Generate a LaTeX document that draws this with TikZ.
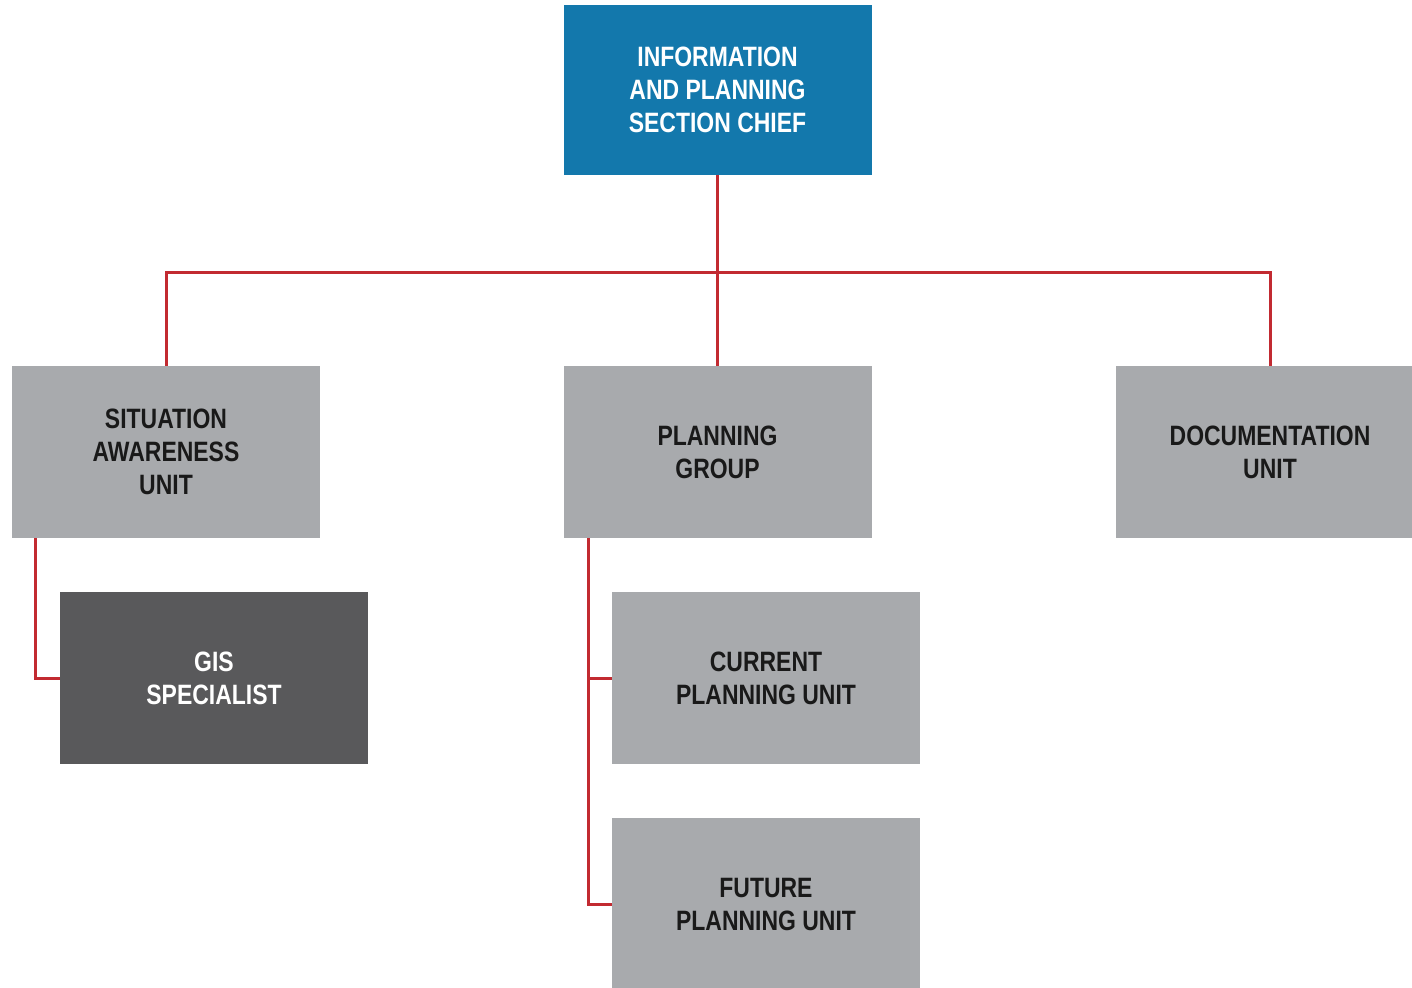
\documentclass[tikz,border=0pt]{standalone}
\usepackage{fontspec}
\setmainfont{Liberation Sans}[FakeStretch=0.82]
\usepackage{tikz}
\usetikzlibrary{calc}

\definecolor{chiefblue}{HTML}{1378AC}
\definecolor{unitgray}{HTML}{A8AAAD}
\definecolor{gisgray}{HTML}{59595B}
\definecolor{linered}{HTML}{C22A31}

\tikzset{
    unitbox/.style={fill=unitgray, text=black!90, minimum width=154pt, minimum height=86pt,
        align=center, inner sep=0pt, font=\fontsize{14}{16.5}\selectfont\bfseries},
    chiefbox/.style={unitbox, fill=chiefblue, text=white, minimum height=85pt},
    gisbox/.style={unitbox, fill=gisgray, text=white},
    link/.style={draw=linered, line width=1.5pt}
}

\begin{document}
\begin{tikzpicture}[x=0.5pt,y=-0.5pt]
        \useasboundingbox (0,0) rectangle (1412,988);
        \node[chiefbox] (chief) at (717.5,90) {INFORMATION\\AND PLANNING\\SECTION CHIEF};
        \node[unitbox] (sau) at (166,452) {SITUATION\\AWARENESS\\UNIT};
        \node[unitbox] (pg) at (717.5,452) {PLANNING\\GROUP};
        \node[unitbox] (doc) at (1270,452) {DOCUMENTATION\\UNIT};
        \node[gisbox] (gis) at (214,678) {GIS\\SPECIALIST};
        \node[unitbox] (cur) at (766,678) {CURRENT\\PLANNING UNIT};
        \node[unitbox] (fut) at (766,904) {FUTURE\\PLANNING UNIT};
        \coordinate (bus) at (717.5,273);
        \draw[link] (chief.south) -- (pg.north);
        \draw[link] (sau.north) |- (bus) -| (doc.north);
        \draw[link] ([xshift=12pt]sau.south west) |- (gis.west);
        \foreach \n in {cur,fut}
        \draw[link] ([xshift=12.5pt]pg.south west) |- (\n.west);
    \end{tikzpicture}
\end{document}
